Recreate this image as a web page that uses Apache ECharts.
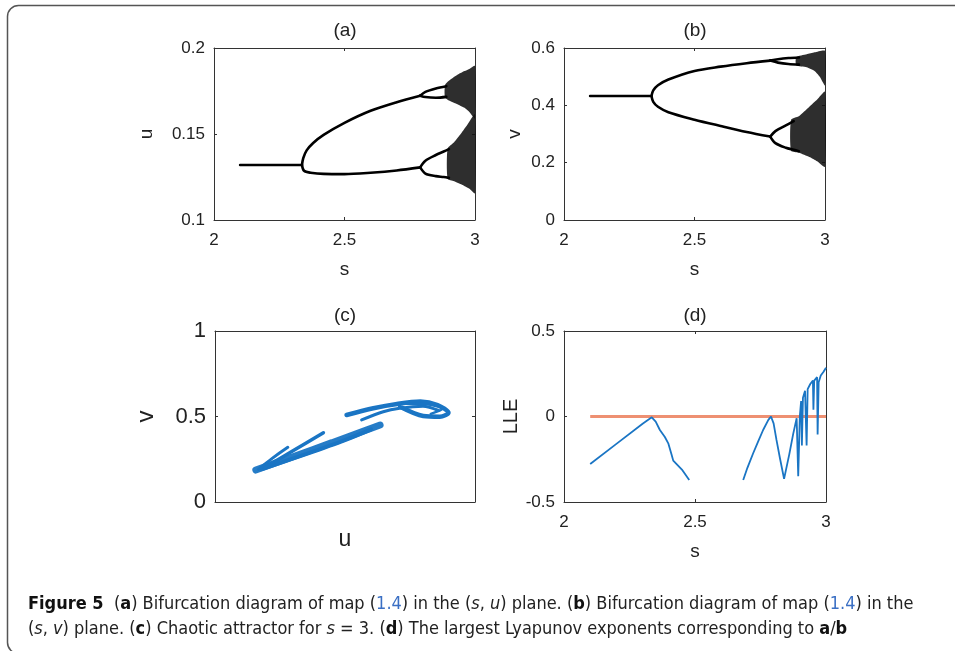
<!DOCTYPE html>
<html>
<head>
    <meta charset="utf-8">
    <title>Figure 5</title>
    <script src="https://cdn.jsdelivr.net/npm/echarts@6/dist/echarts.min.js"></script>
</head>
<body style="margin:0;background:#fff;">
<div id="main" style="width:955px;height:651px;"></div>

<script type="text/javascript">
    // (a) bifurcation in the (s,u) plane
    var aFixed = [[2.1, 0.132], [2.337, 0.132]];
    var aUpper = [[2.337, 0.132], [2.342, 0.136], [2.355, 0.1405], [2.38, 0.1448], [2.42, 0.1495], [2.5, 0.1565], [2.6, 0.1635], [2.7, 0.1685], [2.79, 0.1723]];
    var aLower = [[2.337, 0.132], [2.345, 0.1286], [2.37, 0.1275], [2.42, 0.1268], [2.5, 0.1267], [2.6, 0.1275], [2.7, 0.1288], [2.79, 0.1306]];
    var aLoop1Top = [[2.79, 0.1723], [2.81, 0.1745], [2.85, 0.1765], [2.89, 0.1778]];
    var aLoop1Bot = [[2.79, 0.1723], [2.81, 0.1715], [2.85, 0.1711], [2.89, 0.1716]];
    var aLoop2Top = [[2.79, 0.1306], [2.81, 0.1345], [2.85, 0.1378], [2.88, 0.1398], [2.9, 0.1412]];
    var aLoop2Bot = [[2.79, 0.1306], [2.81, 0.127], [2.85, 0.1255], [2.88, 0.125], [2.9, 0.1245]];
    var aBand1 = [[2.885, 0.1785], [2.9, 0.181], [2.93, 0.1842], [2.96, 0.1866], [2.98, 0.188], [3.0, 0.1895],
                  [3.0, 0.159], [2.98, 0.1625], [2.96, 0.1652], [2.93, 0.1675], [2.9, 0.1695], [2.885, 0.1712]];
    var aBand2 = [[2.895, 0.1415], [2.92, 0.1452], [2.95, 0.151], [2.97, 0.1552], [3.0, 0.1615],
                  [3.0, 0.1155], [2.98, 0.118], [2.95, 0.1205], [2.92, 0.1225], [2.895, 0.124]];

    // (b) bifurcation in the (s,v) plane
    var bFixed = [[2.1, 0.4325], [2.335, 0.4325]];
    var bUpper = [[2.335, 0.4325], [2.342, 0.452], [2.36, 0.47], [2.4, 0.49], [2.5, 0.52], [2.6, 0.535], [2.7, 0.547], [2.79, 0.556]];
    var bLower = [[2.335, 0.4325], [2.342, 0.412], [2.36, 0.395], [2.4, 0.376], [2.5, 0.35], [2.6, 0.328], [2.7, 0.307], [2.79, 0.291]];
    var bLoop1Top = [[2.79, 0.556], [2.82, 0.561], [2.86, 0.565], [2.9, 0.567]];
    var bLoop1Bot = [[2.79, 0.556], [2.82, 0.549], [2.86, 0.544], [2.9, 0.542]];
    var bLoop2Top = [[2.79, 0.291], [2.81, 0.31], [2.85, 0.33], [2.88, 0.345]];
    var bLoop2Bot = [[2.79, 0.291], [2.81, 0.268], [2.85, 0.252], [2.88, 0.245], [2.9, 0.24]];
    var bBand1 = [[2.89, 0.568], [2.93, 0.578], [2.96, 0.585], [3.0, 0.59],
                  [3.0, 0.47], [2.98, 0.5], [2.96, 0.52], [2.93, 0.533], [2.89, 0.54]];
    var bBand2 = [[2.87, 0.35], [2.9, 0.362], [2.94, 0.395], [2.97, 0.42], [3.0, 0.447],
                  [3.0, 0.186], [2.97, 0.205], [2.94, 0.22], [2.9, 0.235], [2.87, 0.242]];

    // (c) chaotic attractor for s = 3, strands in (u,v)
    var cMain = [[0.1157, 0.187], [0.13, 0.265], [0.145, 0.347], [0.158, 0.42], [0.1635, 0.45]];
    var cMain2 = [[0.118, 0.192], [0.135, 0.28], [0.15, 0.362], [0.16, 0.425]];
    var cStrandB = [[0.1192, 0.203], [0.13, 0.3], [0.1417, 0.405]];
    var cStrandC = [[0.1167, 0.191], [0.122, 0.255], [0.128, 0.32]];
    var cHook = [[0.1506, 0.509], [0.1609, 0.548], [0.170, 0.573], [0.179, 0.587], [0.1856, 0.567],
                 [0.1898, 0.522], [0.1865, 0.499], [0.1801, 0.503], [0.1712, 0.557]];
    var cInner = [[0.1564, 0.48], [0.1647, 0.528], [0.171, 0.548], [0.18, 0.56], [0.186, 0.535]];
    var cInner2 = [[0.172, 0.575], [0.181, 0.572], [0.1875, 0.545], [0.183, 0.515]];

    // (d) largest Lyapunov exponent
    var dLLE = [[2.1, -0.278], [2.2, -0.16], [2.3, -0.042], [2.335, -0.005], [2.35, -0.03], [2.366, -0.079],
                [2.385, -0.12], [2.398, -0.157], [2.411, -0.225], [2.417, -0.258], [2.45, -0.31], [2.478, -0.371],
                [2.58, null],
                [2.684, -0.371], [2.7, -0.3], [2.722, -0.215], [2.74, -0.15], [2.76, -0.079], [2.78, -0.02],
                [2.79, 0], [2.8, -0.04], [2.811, -0.137], [2.825, -0.25], [2.84, -0.365], [2.86, -0.22],
                [2.875, -0.1], [2.888, -0.01], [2.894, -0.35], [2.9, 0.0], [2.905, 0.09], [2.908, -0.17],
                [2.912, 0.11], [2.92, 0.15], [2.926, -0.17], [2.93, 0.16], [2.94, 0.19], [2.945, 0.2],
                [2.95, 0.21], [2.952, 0.04], [2.955, 0.21], [2.962, 0.22], [2.966, 0.23], [2.968, -0.105],
                [2.972, 0.2], [2.98, 0.24], [2.99, 0.26], [3.0, 0.285]];
    var dZero = [[2.1, 0], [3.0, 0]];

    var FONT = "'Liberation Sans', Arial, sans-serif";
    var TXT = '#222';
    var BLUE = '#1a75c4';

    var grids = [
        {left: 214, top: 48, width: 261, height: 172},
        {left: 564, top: 48, width: 261, height: 172},
        {left: 215, top: 331, width: 260, height: 171},
        {left: 564, top: 331, width: 262, height: 171}
    ];

    function xAx(g, min, max, itv, show, name, fs, gap, pos) {
        return {
            type: 'value', gridIndex: g, min: min, max: max, interval: itv, position: pos || 'bottom',
            name: pos === 'top' ? '' : name, nameLocation: 'middle', nameGap: gap,
            nameTextStyle: {fontFamily: FONT, fontSize: fs + 2, color: TXT},
            axisLine: {show: true, onZero: false, lineStyle: {color: '#333', width: 1}},
            axisTick: {show: show !== 'none', inside: true, length: 3, lineStyle: {color: '#333'}},
            axisLabel: {show: show === true && pos !== 'top', fontFamily: FONT, fontSize: fs, color: TXT, margin: 12},
            splitLine: {show: false}
        };
    }
    function yAx(g, min, max, itv, name, fs, gap, pos) {
        return {
            type: 'value', gridIndex: g, min: min, max: max, interval: itv, position: pos || 'left',
            name: pos === 'right' ? '' : name, nameLocation: 'middle', nameGap: gap,
            nameTextStyle: {fontFamily: FONT, fontSize: fs + 2, color: TXT},
            axisLine: {show: true, onZero: false, lineStyle: {color: '#333', width: 1}},
            axisTick: {show: true, inside: true, length: 3, lineStyle: {color: '#333'}},
            axisLabel: {show: pos !== 'right', fontFamily: FONT, fontSize: fs, color: TXT, margin: 9},
            splitLine: {show: false}
        };
    }

    var xAxis = [
        xAx(0, 2, 3, 0.5, true, 's', 17, 40), xAx(1, 2, 3, 0.5, true, 's', 17, 40),
        xAx(2, 0.1, 0.2, 0.05, 'none', 'u', 21, 26), xAx(3, 2, 3, 0.5, true, 's', 17, 40),
        xAx(0, 2, 3, 0.5, true, '', 17, 0, 'top'), xAx(1, 2, 3, 0.5, true, '', 17, 0, 'top'),
        xAx(2, 0.1, 0.2, 0.05, 'none', '', 17, 0, 'top'), xAx(3, 2, 3, 0.5, true, '', 17, 0, 'top')
    ];
    var yAxis = [
        yAx(0, 0.1, 0.2, 0.05, 'u', 17, 58), yAx(1, 0, 0.6, 0.2, 'v', 17, 40),
        yAx(2, 0, 1, 0.5, 'v', 22, 57), yAx(3, -0.5, 0.5, 0.5, 'LLE', 17, 36),
        yAx(0, 0.1, 0.2, 0.05, '', 17, 0, 'right'), yAx(1, 0, 0.6, 0.2, '', 17, 0, 'right'),
        yAx(2, 0, 1, 0.5, '', 17, 0, 'right'), yAx(3, -0.5, 0.5, 0.5, '', 17, 0, 'right')
    ];
    yAxis[3].nameTextStyle.fontSize = 20;

    var series = [];
    function branch(idx, pts, color, width, op) {
        series.push({
            type: 'line', xAxisIndex: idx, yAxisIndex: idx, data: pts, showSymbol: false, smooth: 0.3,
            lineStyle: {color: color || '#000', width: width || 2.6, opacity: op || 1, cap: 'round'},
            silent: true, animation: false
        });
    }
    function band(idx, poly) {
        series.push({
            type: 'custom', xAxisIndex: idx, yAxisIndex: idx, data: poly, silent: true, animation: false,
            renderItem: function (params, api) {
                if (params.dataIndex !== 0) return;
                var pts = poly.map(function (p) { return api.coord(p); });
                return {type: 'polygon', shape: {points: pts, smooth: 0.2}, style: {fill: '#111', opacity: 0.88}};
            }
        });
    }
    [aFixed, aUpper, aLower, aLoop1Top, aLoop1Bot, aLoop2Top, aLoop2Bot].forEach(function (p) { branch(0, p); });
    band(0, aBand1); band(0, aBand2);
    [bFixed, bUpper, bLower, bLoop1Top, bLoop1Bot, bLoop2Top, bLoop2Bot].forEach(function (p) { branch(1, p); });
    band(1, bBand1); band(1, bBand2);
    branch(2, cMain, BLUE, 7, 0.95); branch(2, cMain2, BLUE, 4); branch(2, cStrandB, BLUE, 3.5);
    branch(2, cStrandC, BLUE, 3); branch(2, cHook, BLUE, 4.5); branch(2, cInner, BLUE, 3);
    branch(2, cInner2, BLUE, 2.5);
    series.push({
        type: 'line', xAxisIndex: 3, yAxisIndex: 3, data: dZero, showSymbol: false,
        lineStyle: {color: '#ee9072', width: 3}, silent: true, animation: false
    });
    series.push({
        type: 'line', xAxisIndex: 3, yAxisIndex: 3, data: dLLE, showSymbol: false, connectNulls: false,
        lineStyle: {color: BLUE, width: 1.8}, silent: true, animation: false
    });

    var titles = [['(a)', 345, 31], ['(b)', 695, 31], ['(c)', 345, 316], ['(d)', 695, 316]];
    var graphic = titles.map(function (t) {
        return {type: 'text', x: t[1], y: t[2], style: {text: t[0], fontFamily: FONT, fontSize: 19, fill: TXT,
            textAlign: 'center', textVerticalAlign: 'middle'}};
    });
    graphic.push({
        type: 'rect', shape: {x: 7.5, y: 5.5, width: 1000, height: 648, r: 11},
        style: {fill: 'none', stroke: '#555', lineWidth: 1.5}
    });
    var capFont = '"Liberation Sans Narrow", "DejaVu Sans Condensed", sans-serif';
    var CS = 18;
    var rich = {
        fb: {fontFamily: capFont, fontSize: CS, fontWeight: 'bold', fill: '#111'},
        b: {fontFamily: capFont, fontSize: CS, fontWeight: 'bold', fill: '#111'},
        i: {fontFamily: capFont, fontSize: CS, fontStyle: 'italic', fill: '#222'},
        l: {fontFamily: capFont, fontSize: CS, fill: '#3a6fc4'}
    };
    graphic.push({
        type: 'text', x: 28, y: 604, style: {
            text: '{fb|Figure 5}  ({b|a}) Bifurcation diagram of map ({l|1.4}) in the ({i|s}, {i|u}) plane. ({b|b}) Bifurcation diagram of map ({l|1.4}) in the',
            rich: rich, fontFamily: capFont, fontSize: CS, fill: '#222', textVerticalAlign: 'middle'
        }
    });
    graphic.push({
        type: 'text', x: 28, y: 629, style: {
            text: '({i|s}, {i|v}) plane. ({b|c}) Chaotic attractor for {i|s} = 3. ({b|d}) The largest Lyapunov exponents corresponding to {b|a}/{b|b}',
            rich: rich, fontFamily: capFont, fontSize: CS, fill: '#222', textVerticalAlign: 'middle'
        }
    });

    var myChart = echarts.init(document.getElementById('main'));
    myChart.setOption({
        backgroundColor: '#fff',
        animation: false,
        grid: grids,
        xAxis: xAxis,
        yAxis: yAxis,
        series: series,
        graphic: graphic
    });
</script>
</body>
</html>
